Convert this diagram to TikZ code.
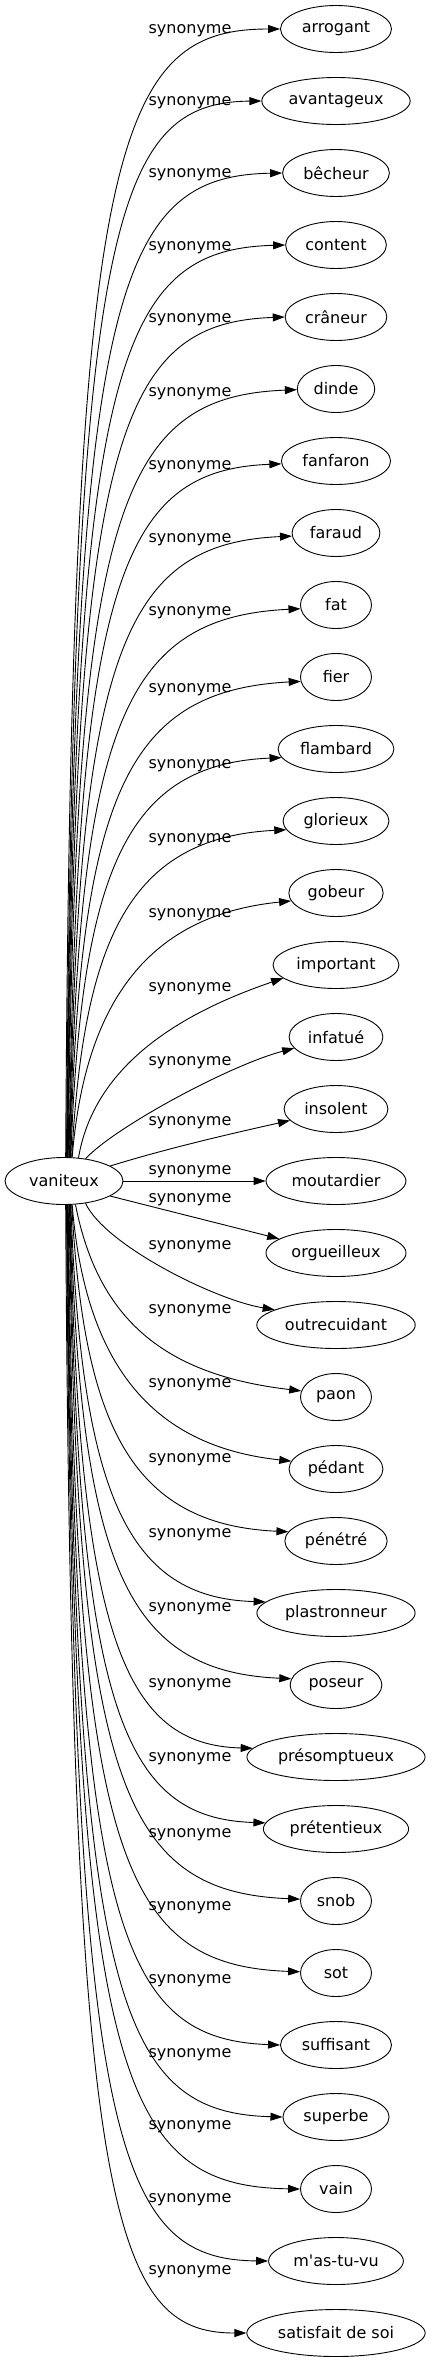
\documentclass[tikz,border=0pt]{standalone}
\usepackage{fontspec}
\setmainfont{DejaVu Sans}
\usetikzlibrary{arrows.meta,shapes.geometric}

\tikzset{
  word/.style={draw, ellipse, line width=0.9pt, minimum height=47pt, minimum width=71pt,
    inner xsep=5pt, font=\fontsize{16}{19}\selectfont},
  synlabel/.style={inner sep=0pt, font=\fontsize{16}{19}\selectfont},
  synarrow/.style={-{Triangle[length=12pt,width=8pt]}, line width=0.9pt},
}

\begin{document}
\begin{tikzpicture}[x=1pt,y=-1pt]
\useasboundingbox (0,0) rectangle (431,2363);

% the word and its synonyms
\node[word, minimum width=118pt] (v) at (64,1181) {vaniteux};
\foreach \w [count=\i from 0] in {arrogant, avantageux, bêcheur, content, crâneur, dinde,
  fanfaron, faraud, fat, fier, flambard, glorieux, gobeur, important, infatué, insolent,
  moutardier, orgueilleux, outrecuidant, paon, pédant, pénétré, plastronneur, poseur,
  présomptueux, prétentieux, snob, sot, suffisant, superbe, vain, m\textquotesingle as-tu-vu,
  satisfait de soi}
{
  \pgfmathsetmacro\yt{29+72*\i}
  \node[word] (t\i) at (336,\yt) {\w};
}

% labels
\foreach \ly [count=\i from 0] in {29,101,173,246,318,392,465,538,611,688,764,838,913,987,
  1061,1121,1170,1198,1245,1309,1383,1458,1533,1607,1683,1757,1833,1906,1979,2053,2125,2198,2270}
  \node[synlabel] (l\i) at (190,\ly+2) {synonyme};

% long edges upwards
\foreach \i in {0,...,11} {
  \pgfmathsetmacro\yt{29+72*\i}
  \pgfmathtruncatemacro\sa{86-1.2*\i}
  \pgfmathsetmacro\dd{1158-\yt}
  \pgfmathsetmacro\ca{3+3000/\dd}
  \pgfmathsetmacro\cb{121-\dd}
  \pgfmathsetmacro\px{112+1.5*\i}
  \pgfmathsetmacro\py{\yt+1.5*\i}
  \pgfmathtruncatemacro\ea{180+max(0,1.5*(\i-4))}
  \draw[synarrow] (v.\sa) .. controls +(\ca,\cb) and (\px,\py) .. (t\i.\ea);
}

% long edges downwards
\foreach \i in {21,...,32} {
  \pgfmathtruncatemacro\j{32-\i}
  \pgfmathsetmacro\yt{29+72*\i}
  \pgfmathtruncatemacro\sa{-(86-1.2*\j)}
  \pgfmathsetmacro\dd{\yt-1204}
  \pgfmathsetmacro\ca{3+3000/\dd}
  \pgfmathsetmacro\cb{\dd-121}
  \pgfmathsetmacro\px{112+1.5*\j}
  \pgfmathsetmacro\py{\yt-1.5*\j}
  \pgfmathtruncatemacro\ea{180-max(0,1.5*(\j-4))}
  \draw[synarrow] (v.\sa) .. controls +(\ca,\cb) and (\px,\py) .. (t\i.\ea);
}

% short edges near the middle
\draw[synarrow] (v.71) .. controls (85,1000) and (150,915) .. (t12.190);
\draw[synarrow] (v.58) .. controls (95,1060) and (190,1010) .. (t13.194);
\draw[synarrow] (v.46) .. controls (115,1127) and (230,1065) .. (t14.195);
\draw[synarrow] (v.18) .. controls (165,1149) and (225,1135) .. (t15.194);
\draw[synarrow] (v) -- (t16);
\draw[synarrow] (v.-18) .. controls (165,1210) and (225,1225) .. (t17.166);
\draw[synarrow] (v.-46) .. controls (105,1245) and (215,1300) .. (t18.166);
\draw[synarrow] (v.-64) .. controls (98,1320) and (165,1375) .. (t19.170);
\draw[synarrow] (v.-71) .. controls (85,1362) and (150,1446) .. (t20.170);
\end{tikzpicture}
\end{document}
